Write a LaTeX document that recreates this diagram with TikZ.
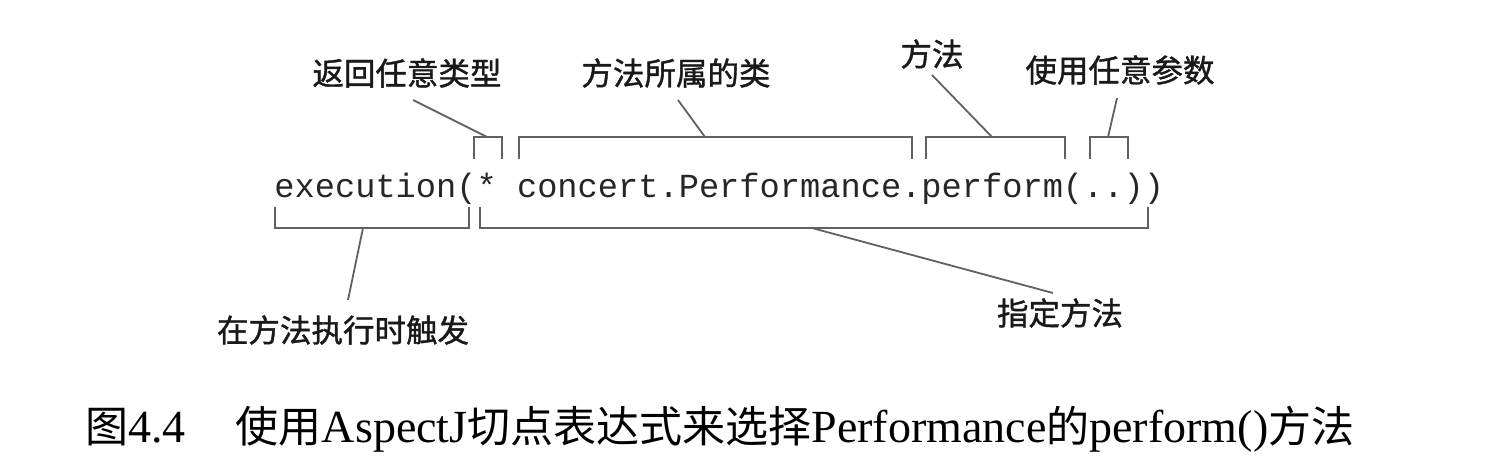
\documentclass[tikz,border=0pt]{standalone}
\usepackage{fontspec}
\setmainfont{Liberation Serif}
\setmonofont{Liberation Mono}
\newfontfamily\cjk{Noto Sans CJK SC}
\newfontfamily\cjkb[FakeBold=1.2]{Noto Sans CJK SC}
\begin{document}
\begin{tikzpicture}[x=0.5pt,y=-0.5pt,
  lbl/.style={inner sep=0pt,font=\cjkb\fontsize{15.75pt}{18pt}\selectfont,text=black!90},
  brk/.style={draw=black!62,line width=0.9pt,line join=miter},
  lead/.style={draw=black!62,line width=0.9pt}]
\useasboundingbox (0,0) rectangle (1492,468);
% code text
\node[anchor=base west,inner sep=0pt,text=black!85,font=\ttfamily\fontsize{16.85pt}{20pt}\selectfont] (code) at (274,197) {execution(* concert.Performance.perform(..))};
% top brackets
\coordinate (b1a) at (474,159); \coordinate (b1b) at (502,159);
\coordinate (b2a) at (519,159); \coordinate (b2b) at (912,159);
\coordinate (b3a) at (926,159); \coordinate (b3b) at (1065,159);
\coordinate (b4a) at (1090,159); \coordinate (b4b) at (1128,159);
\draw[brk] (b1a) -- ++(0,-22) -| (b1b);
\draw[brk] (b2a) -- ++(0,-22) -| (b2b);
\draw[brk] (b3a) -- ++(0,-22) -| (b3b);
\draw[brk] (b4a) -- ++(0,-22) -| (b4b);
% bottom brackets
\coordinate (b5a) at (275,207); \coordinate (b5b) at (469,207);
\coordinate (b6a) at (480,207); \coordinate (b6b) at (1148,207);
\draw[brk] (b5a) -- ++(0,21) -| (b5b);
\draw[brk] (b6a) -- ++(0,21) -| (b6b);
% labels
\node[lbl] (t1) at (407,73) {返回任意类型};
\node[lbl] (t2) at (676,73) {方法所属的类};
\node[lbl] (t3) at (932,54) {方法};
\node[lbl] (t4) at (1120,70) {使用任意参数};
\node[lbl] (t5) at (343,330) {在方法执行时触发};
\node[lbl] (t6) at (1060,313) {指定方法};
% leader ends
\coordinate (s1) at (413,100); \coordinate (e1) at (487,137);
\coordinate (s2) at (678,100); \coordinate (e2) at (705,137);
\coordinate (s3) at (932,75);  \coordinate (e3) at (992,137);
\coordinate (s4) at (1117,98); \coordinate (e4) at (1108,137);
\coordinate (s5) at (348,300); \coordinate (e5) at (363,228);
\coordinate (s6) at (1053,293); \coordinate (e6) at (812,228);
\draw[lead] (s1) -- (e1);
\draw[lead] (s2) -- (e2);
\draw[lead] (s3) -- (e3);
\draw[lead] (s4) -- (e4);
\draw[lead] (s5) -- (e5);
\draw[lead] (s6) -- (e6);
% caption
\newcommand{\capcjk}[1]{{\cjk\fontsize{21.5pt}{26pt}\selectfont #1}}
\node[anchor=base west,inner sep=0pt,font=\fontsize{23pt}{26pt}\selectfont] (cap) at (85,442)
 {\capcjk{图}4.4\hspace{25pt}\capcjk{使用}AspectJ\capcjk{切点表达式来选择}Performance\capcjk{的}perform()\capcjk{方法}};
\end{tikzpicture}
\end{document}
